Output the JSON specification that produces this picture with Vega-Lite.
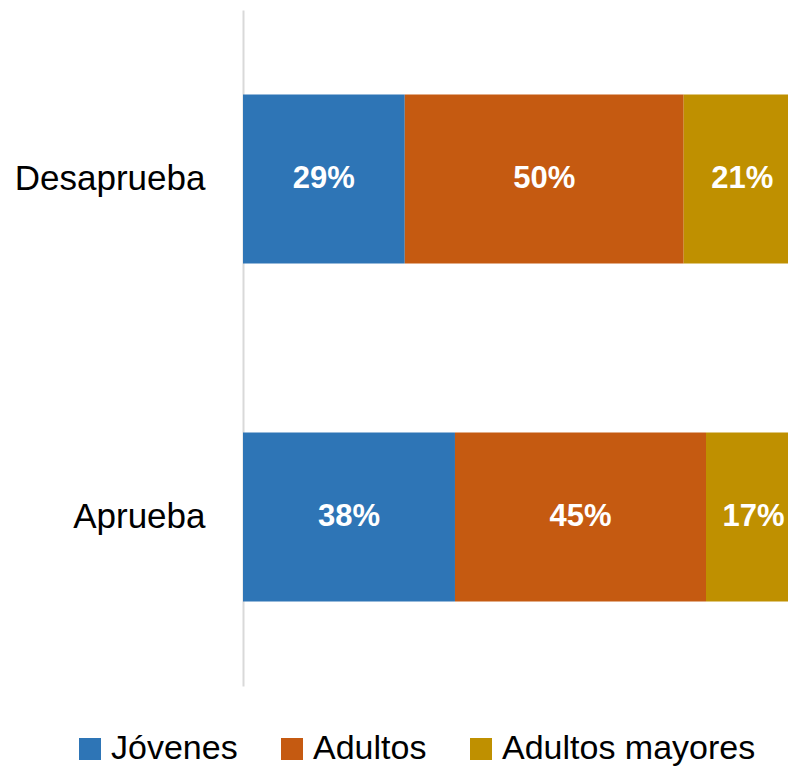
{
  "$schema": "https://vega.github.io/schema/vega-lite/v6.json",
  "width": 545,
  "height": 676,
  "autosize": "none",
  "padding": {"left": 243, "top": 10, "right": 0, "bottom": 81},
  "background": "white",
  "config": {
    "view": {"stroke": null},
    "font": "Liberation Sans"
  },
  "data": {
    "values": [
      {"cat": "Desaprueba", "grupo": "Jóvenes", "k": 1, "v": 0.29},
      {"cat": "Desaprueba", "grupo": "Adultos", "k": 2, "v": 0.50},
      {"cat": "Desaprueba", "grupo": "Adultos mayores", "k": 3, "v": 0.21},
      {"cat": "Aprueba", "grupo": "Jóvenes", "k": 1, "v": 0.38},
      {"cat": "Aprueba", "grupo": "Adultos", "k": 2, "v": 0.45},
      {"cat": "Aprueba", "grupo": "Adultos mayores", "k": 3, "v": 0.17}
    ]
  },
  "transform": [
    {"stack": "v", "groupby": ["cat"], "sort": [{"field": "k", "order": "ascending"}], "as": ["s0", "s1"]},
    {"calculate": "(datum.s0 + datum.s1) / 2", "as": "mid"}
  ],
  "encoding": {
    "y": {
      "field": "cat",
      "type": "nominal",
      "sort": ["Desaprueba", "Aprueba"],
      "scale": {"paddingInner": 0.5, "paddingOuter": 0.25},
      "axis": {
        "title": null,
        "ticks": false,
        "labelFontSize": 35,
        "labelColor": "#000000",
        "labelPadding": 38,
        "labelFont": "Liberation Sans",
        "labelLimit": 0,
        "domainColor": "#d9d9d9",
        "domainWidth": 2
      }
    }
  },
  "layer": [
    {
      "mark": {"type": "bar", "clip": true},
      "encoding": {
        "x": {"field": "s0", "type": "quantitative", "scale": {"domain": [0, 0.977], "nice": false}, "axis": null},
        "x2": {"field": "s1"},
        "color": {
          "field": "grupo",
          "type": "nominal",
          "sort": ["Jóvenes", "Adultos", "Adultos mayores"],
          "scale": {"domain": ["Jóvenes", "Adultos", "Adultos mayores"], "range": ["#2E75B6", "#C55A11", "#BF9000"]},
          "legend": {
            "title": null,
            "orient": "none",
            "direction": "horizontal",
            "legendX": -170,
            "legendY": 722,
            "symbolType": "square",
            "symbolSize": 484,
            "symbolStrokeWidth": 0,
            "labelFontSize": 34,
            "labelFont": "Liberation Sans",
            "labelColor": "#000000",
            "labelOffset": 4,
            "labelLimit": 0,
            "columnPadding": 37
          }
        }
      }
    },
    {
      "mark": {"type": "text", "color": "white", "fontWeight": "bold", "fontSize": 31, "font": "Liberation Sans", "baseline": "middle"},
      "encoding": {
        "x": {"field": "mid", "type": "quantitative"},
        "text": {"field": "v", "type": "quantitative", "format": ".0%"},
        "detail": {"field": "grupo"}
      }
    }
  ]
}
